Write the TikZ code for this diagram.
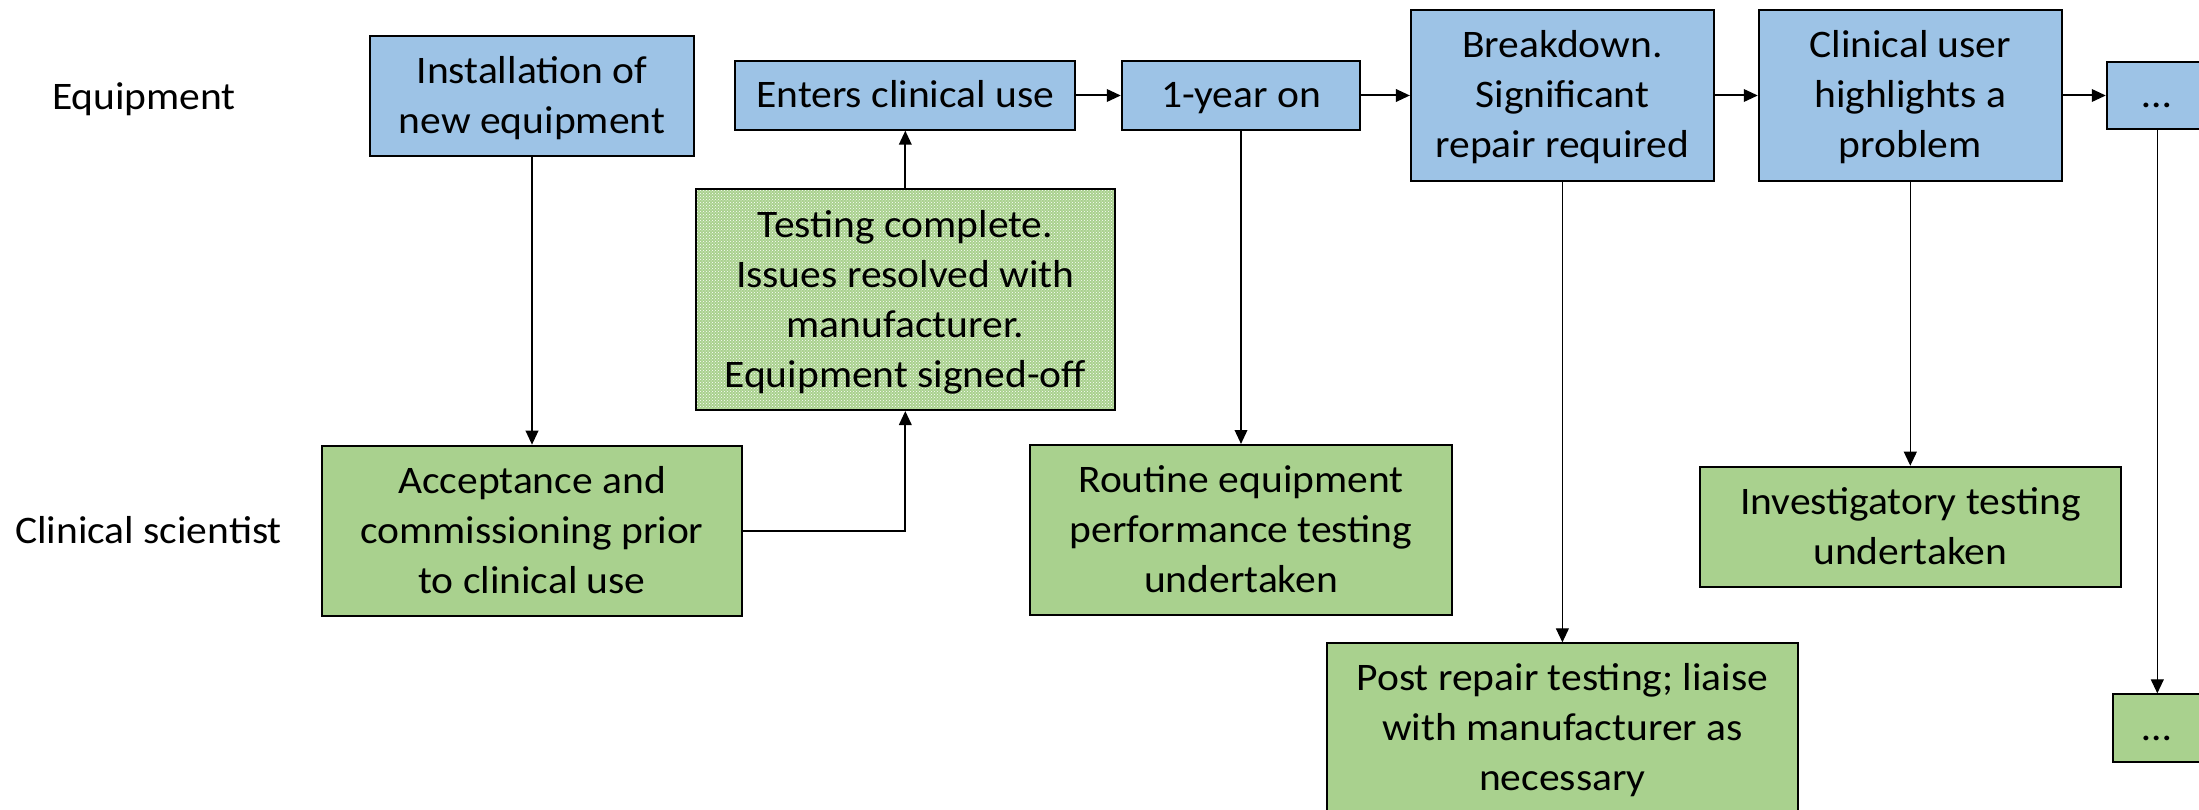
\documentclass[tikz,border=0pt]{standalone}
\usepackage{fontspec}
\usepackage{array}
\setmainfont{Carlito}[FakeStretch=1.065]
\usetikzlibrary{arrows.meta,patterns}
\definecolor{blueF}{HTML}{9DC3E6}
\definecolor{greenF}{HTML}{A9D18E}
\newcommand\mystrut{\vrule width 0pt height 37.5pt depth 12.5pt}
\newcommand\bt[1]{{\renewcommand\arraystretch{0}\begin{tabular}{@{}>{\mystrut}c@{}}#1\end{tabular}}}
\tikzset{
  boxbase/.style={draw=black, line width=2pt, inner sep=0pt,
    font=\fontsize{39}{50}\selectfont},
  bluebox/.style={boxbase, fill=blueF},
  greenbox/.style={boxbase, fill=greenF},
  patbox/.style={boxbase, preaction={fill=greenF}, pattern=crosshatch dots, pattern color=white},
  lanelabel/.style={inner sep=0pt, font=\fontsize{39}{50}\selectfont},
  arr/.style={line width=2pt, -{Triangle[length=14pt,width=12.5pt]}},
  thinarr/.style={line width=1.1pt, -{Triangle[length=14pt,width=13pt]}},
}
\begin{document}
\begin{tikzpicture}[x=1pt,y=-1pt]
\useasboundingbox (0,0) rectangle (2199,810);
\clip (0,0) rectangle (2199,810);
% lane labels
\node[lanelabel] (lequip) at (144,96.8) {\bt{Equipment}};
\node[lanelabel] (lsci) at (148.5,530.5) {\bt{Clinical scientist}};
% top row
\node[bluebox, minimum width=324pt, minimum height=120pt] (inst) at (532,95.7) {\bt{Installation of\\new equipment}};
\node[bluebox, minimum width=340pt, minimum height=68.3pt] (enters) at (905.3,95.5) {\bt{Enters clinical use}};
\node[bluebox, minimum width=238.4pt, minimum height=68.3pt] (year) at (1241,95.5) {\bt{1-year on}};
\node[bluebox, minimum width=303pt, minimum height=170.7pt] (brk) at (1562.4,95.5) {\bt{Breakdown.\\Significant\\repair required}};
\node[bluebox, minimum width=303pt, minimum height=170.7pt] (user) at (1910.3,95.5) {\bt{Clinical user\\highlights a\\problem}};
\node[bluebox, minimum width=101pt, minimum height=67.6pt] (dots1) at (2157.3,95.5) {\bt{…}};
% middle
\node[patbox, minimum width=419.4pt, minimum height=221pt] (test) at (905.3,299.5) {\bt{Testing complete.\\Issues resolved with\\manufacturer.\\Equipment signed-off}};
% bottom row
\node[greenbox, minimum width=420.7pt, minimum height=170pt] (acc) at (532,530.7) {\bt{Acceptance and\\commissioning prior\\to clinical use}};
\node[greenbox, minimum width=421.7pt, minimum height=170pt] (rout) at (1241,530) {\bt{Routine equipment\\performance testing\\undertaken}};
\node[greenbox, minimum width=421.2pt, minimum height=120pt] (inv) at (1910.3,526.7) {\bt{Investigatory testing\\undertaken}};
\node[greenbox, minimum width=471.3pt, minimum height=170pt] (post) at (1562.4,728.3) {\bt{Post repair testing; liaise\\with manufacturer as\\necessary}};
\node[greenbox, minimum width=88pt, minimum height=68pt] (dots2) at (2157.3,728.3) {\bt{…}};
% connectors
\draw[arr] (inst.south) -- (acc.north);
\draw[arr] (acc.east) -| (test.south);
\draw[arr] (test.north) -- (enters.south);
\draw[arr] (enters.east) -- (year.west);
\draw[arr] (year.east) -- (brk.west);
\draw[arr] (year.south) -- (rout.north);
\draw[arr] (brk.east) -- (user.west);
\draw[arr] (user.east) -- (dots1.west);
\draw[thinarr] (brk.south) -- (post.north);
\draw[thinarr] (user.south) -- (inv.north);
\draw[thinarr] (dots1.south) -- (dots2.north);
\end{tikzpicture}
\end{document}
